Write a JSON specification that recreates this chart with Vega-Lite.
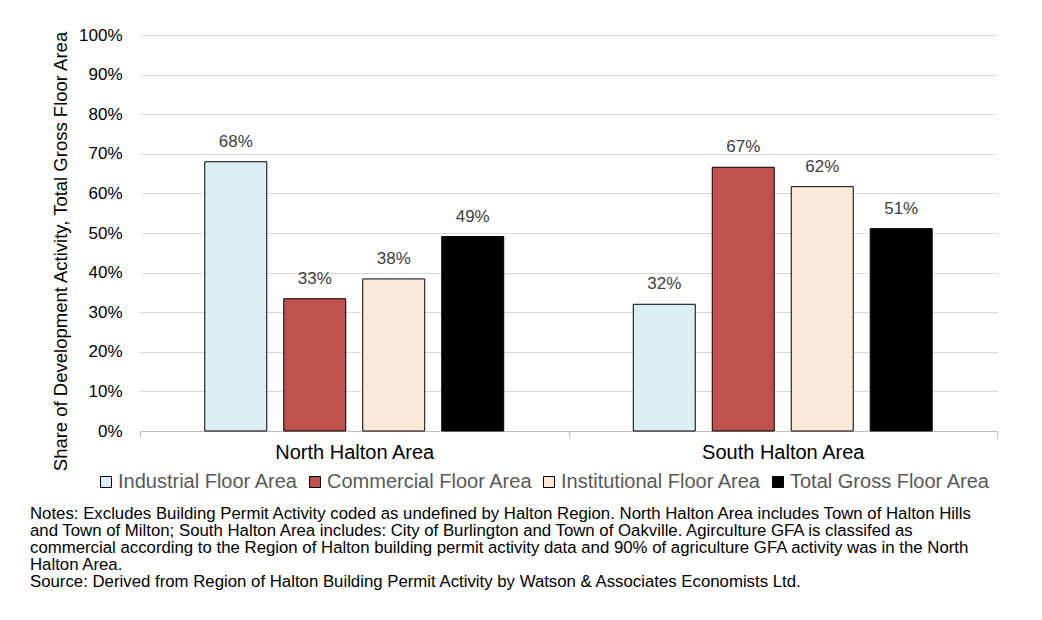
{
  "$schema": "https://vega.github.io/schema/vega-lite/v6.json",
  "autosize": "none",
  "width": 857,
  "height": 396,
  "padding": {"left": 140, "top": 35, "right": 45, "bottom": 189},
  "background": "white",
  "config": {
    "font": "Liberation Sans",
    "view": {"stroke": null}
  },
  "title": {
    "text": [
      "Notes: Excludes Building Permit Activity coded as undefined by Halton Region.  North Halton Area includes Town of Halton Hills",
      "and Town of Milton; South Halton Area includes: City of Burlington and Town of Oakville. Agirculture GFA is classifed as",
      "commercial according to the Region of Halton building permit activity data and 90% of agriculture GFA activity was in the North",
      "Halton Area.",
      "Source: Derived from Region of Halton Building Permit Activity by Watson & Associates Economists Ltd."
    ],
    "orient": "bottom",
    "anchor": "start",
    "frame": "group",
    "font": "Liberation Sans",
    "fontSize": 16.8,
    "fontWeight": "normal",
    "color": "#000000",
    "lineHeight": 17,
    "dx": -110,
    "offset": 14
  },
  "data": {
    "values": [
      {"area": "North Halton Area", "type": "Industrial Floor Area", "value": 0.68, "label": "68%"},
      {"area": "North Halton Area", "type": "Commercial Floor Area", "value": 0.334, "label": "33%"},
      {"area": "North Halton Area", "type": "Institutional Floor Area", "value": 0.384, "label": "38%"},
      {"area": "North Halton Area", "type": "Total Gross Floor Area", "value": 0.491, "label": "49%"},
      {"area": "South Halton Area", "type": "Industrial Floor Area", "value": 0.32, "label": "32%"},
      {"area": "South Halton Area", "type": "Commercial Floor Area", "value": 0.666, "label": "67%"},
      {"area": "South Halton Area", "type": "Institutional Floor Area", "value": 0.617, "label": "62%"},
      {"area": "South Halton Area", "type": "Total Gross Floor Area", "value": 0.511, "label": "51%"}
    ]
  },
  "encoding": {
    "x": {
      "field": "area", "type": "nominal",
      "scale": {"paddingInner": 0, "paddingOuter": 0},
      "axis": {
        "title": null, "labelAngle": 0, "labelFontSize": 20, "labelColor": "#000000",
        "labelPadding": 5, "domainColor": "#bfbfbf", "tickColor": "#bfbfbf", "tickSize": 6,
        "tickBand": "extent", "grid": false
      }
    },
    "xOffset": {
      "field": "type", "type": "nominal",
      "sort": ["Industrial Floor Area", "Commercial Floor Area", "Institutional Floor Area", "Total Gross Floor Area"],
      "scale": {"paddingInner": 0.215, "paddingOuter": 0.82}
    },
    "y": {
      "field": "value", "type": "quantitative",
      "scale": {"domain": [0, 1]},
      "axis": {
        "title": "Share of Development Activity, Total Gross Floor Area",
        "titleFontSize": 18.5, "titleFontWeight": "normal", "titleColor": "#000000",
        "titlePadding": 8, "titleY": 216,
        "format": ".0%", "values": [0,0.1,0.2,0.3,0.4,0.5,0.6,0.7,0.8,0.9,1],
        "labelOverlap": false,
        "labelFontSize": 17, "labelColor": "#000000", "labelPadding": 18,
        "domain": false, "ticks": false,
        "gridColor": "#d9d9d9", "gridWidth": 1
      }
    }
  },
  "layer": [
    {
      "mark": {"type": "bar", "stroke": "#000000", "strokeWidth": 1},
      "encoding": {
        "color": {
          "field": "type", "type": "nominal",
          "sort": ["Industrial Floor Area", "Commercial Floor Area", "Institutional Floor Area", "Total Gross Floor Area"],
          "scale": {
            "domain": ["Industrial Floor Area", "Commercial Floor Area", "Institutional Floor Area", "Total Gross Floor Area"],
            "range": ["#daeef3", "#c0504d", "#fde9da", "#000000"]
          },
          "legend": {
            "title": null,
            "orient": "none",
            "legendX": -44,
            "legendY": 437,
            "direction": "horizontal",
            "symbolType": "square",
            "symbolSize": 120,
            "symbolStrokeColor": "#000000",
            "symbolStrokeWidth": 1,
            "symbolOpacity": 1,
            "labelFontSize": 20,
            "labelColor": "#595959",
            "labelOffset": 2,
            "columnPadding": 6,
            "labelLimit": 400
          }
        }
      }
    },
    {
      "mark": {"type": "text", "dy": -11, "fontSize": 17, "color": "#404040", "baseline": "bottom"},
      "encoding": {
        "text": {"field": "label"}
      }
    }
  ]
}
